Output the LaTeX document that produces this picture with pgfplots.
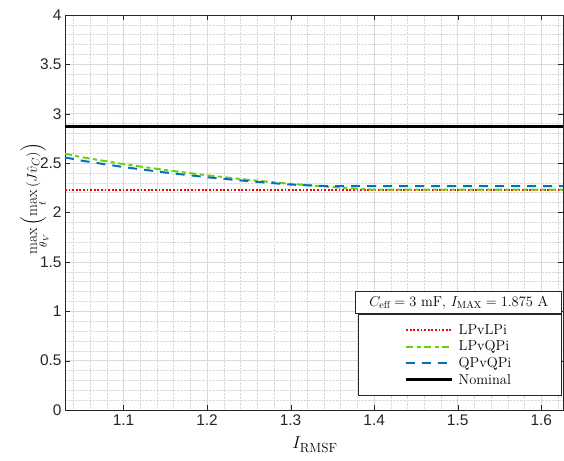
\documentclass[border=0pt]{standalone}
\usepackage{fontspec}
\usepackage{amsmath}
\usepackage{pgfplots}
\pgfplotsset{compat=1.18}
\newfontfamily\arial{Liberation Sans}

\definecolor{mred}{rgb}{1,0,0}
\definecolor{mgreen}{rgb}{0.42,0.81,0.05}
\definecolor{mblue}{rgb}{0,0.447,0.741}
\definecolor{axgray}{rgb}{0.15,0.15,0.15}

\begin{document}
\begin{tikzpicture}
\begin{axis}[
  scale only axis,
  width=498bp, height=395bp,
  xmin=1.03, xmax=1.626,
  ymin=0, ymax=4,
  xtick={1.1,1.2,...,1.61},
  ytick={0,0.5,...,4},
  minor xtick={1.04,1.06,...,1.625},
  minor ytick={0.1,0.2,...,3.95},
  minor tick length=0pt,
  major tick length=5bp,
  tick align=inside,
  grid=both,
  major grid style={gray!30, line width=0.5bp},
  minor grid style={gray!30, densely dotted, line width=0.5bp},
  axis line style={axgray, line width=0.6bp},
  tick style={axgray},
  ticklabel style={font=\arial\fontsize{15.5}{18}\selectfont, text=axgray},
  /pgf/number format/assume math mode=true,
  yticklabel style={/pgf/number format/fixed},
  xticklabel style={/pgf/number format/fixed, /pgf/number format/precision=1, yshift=-1bp},
  xlabel={$I_{\mathrm{RMSF}}$},
  xlabel style={font=\fontsize{19}{22}\selectfont, at={(rel axis cs:0.502,-0.0987)}, anchor=base},
  ylabel={$\max\limits_{\theta_V}\left(\max\limits_{t}\left(J\hat{v}_C\right)\right)$},
  ylabel style={font=\fontsize{15.5}{18}\selectfont, at={(rel axis cs:-0.060,0.535)}, anchor=center},
  legend image code/.code={\path (-44bp,0bp); \draw[#1] (0bp,0bp) -- (46bp,0bp);},
  legend style={at={(rel axis cs:0.998,0.243)}, anchor=north east,
    draw=axgray, line width=0.6bp, fill=white,
    font=\fontsize{14.5}{16}\selectfont,
    inner xsep=2bp, inner ysep=8.5bp, row sep=2bp, column sep=3bp,
    nodes={inner ysep=1.5bp},
    /tikz/every even column/.append style={text width=99bp}},
  legend cell align=left,
]
% LPvLPi
\addplot[color=mred, line width=2.2bp, dash pattern=on 1.8bp off 1.8bp] coordinates {
(1.03,2.228) (1.626,2.228)};
\addlegendentry{LPvLPi}
% LPvQPi
\addplot[color=mgreen, line width=2bp, dash pattern=on 7bp off 3.5bp on 4bp off 3.5bp] coordinates {
(1.03,2.595) (1.05,2.560) (1.10,2.490) (1.15,2.430) (1.20,2.377) (1.25,2.330)
(1.30,2.290) (1.35,2.258) (1.38,2.240) (1.40,2.231) (1.626,2.231)};
\addlegendentry{LPvQPi}
% QPvQPi
\addplot[color=mblue, line width=2bp, dash pattern=on 9bp off 7bp] coordinates {
(1.03,2.558) (1.05,2.525) (1.10,2.460) (1.15,2.405) (1.20,2.357) (1.25,2.317)
(1.30,2.283) (1.34,2.268) (1.626,2.268)};
\addlegendentry{QPvQPi}
% Nominal
\addplot[black, line width=3bp] coordinates {(1.03,2.875) (1.626,2.875)};
\addlegendentry{Nominal}

\node[draw=axgray, line width=0.6bp, fill=white, anchor=south east,
  minimum width=206bp, minimum height=22bp, inner sep=2bp,
  font=\fontsize{14.5}{16}\selectfont]
  at (rel axis cs:0.998,0.243) {$C_{\mathrm{eff}}=3$ mF, $I_{\mathrm{MAX}}=1.875$ A};
\end{axis}
\pgfresetboundingbox
\path ([xshift=-65bp,yshift=-51bp]current axis.south west)
  rectangle ([xshift=1bp,yshift=15bp]current axis.north east);
\end{tikzpicture}
\end{document}
